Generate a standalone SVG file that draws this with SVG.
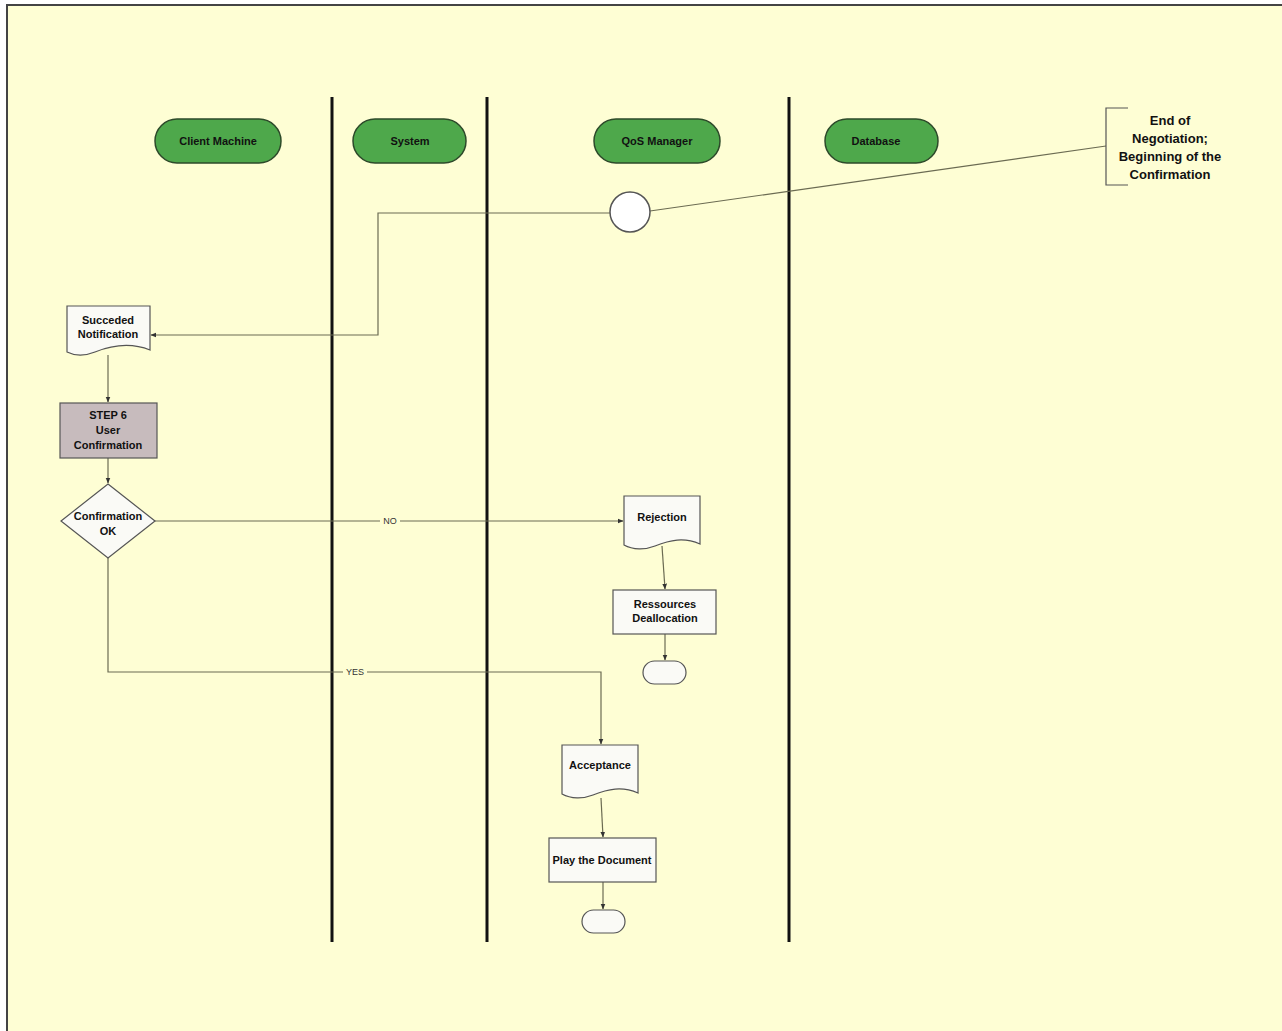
<svg xmlns="http://www.w3.org/2000/svg" width="1282" height="1031" viewBox="0 0 1282 1031">
<defs>
<marker id="arr" viewBox="0 0 10 10" refX="9" refY="5" markerWidth="6" markerHeight="6" orient="auto" markerUnits="userSpaceOnUse">
<path d="M0,1 L10,5 L0,9 z" fill="#333"/>
</marker>
<style>
.t{font-family:"Liberation Sans",Arial,sans-serif;font-weight:bold;font-size:11px;fill:#111;text-anchor:middle}
.lbl{font-family:"Liberation Sans",Arial,sans-serif;font-size:9px;fill:#333;text-anchor:middle}
.pill{fill:#4ea84b;stroke:#2d4a2a;stroke-width:1.5}
.box{fill:#fafaf6;stroke:#555;stroke-width:1.2}
.lane{stroke:#111;stroke-width:3}
.c{fill:none;stroke:#6b6b52;stroke-width:1.2}
</style>
</defs>
<rect x="7" y="5" width="1280" height="1030" fill="#fefed4" stroke="#444" stroke-width="2"/>
<g id="lanes">
<line class="lane" x1="332" y1="97" x2="332" y2="942"/>
<line class="lane" x1="487" y1="97" x2="487" y2="942"/>
<line class="lane" x1="789" y1="97" x2="789" y2="942"/>
</g>
<g id="h-client"><rect class="pill" x="155" y="119" width="126" height="44" rx="22"/><text class="t" x="218" y="145">Client Machine</text></g>
<g id="h-system"><rect class="pill" x="353" y="119" width="113" height="44" rx="22"/><text class="t" x="410" y="145">System</text></g>
<g id="h-qos"><rect class="pill" x="594" y="119" width="126" height="44" rx="22"/><text class="t" x="657" y="145">QoS Manager</text></g>
<g id="h-db"><rect class="pill" x="825" y="119" width="113" height="44" rx="22"/><text class="t" x="876" y="145">Database</text></g>
<g id="connectors">
<line class="c" x1="650" y1="211" x2="1106" y2="146"/>
<polyline class="c" points="610,213 378,213 378,335 151,335" marker-end="url(#arr)"/>
<line class="c" x1="108" y1="355" x2="108" y2="402" marker-end="url(#arr)"/>
<line class="c" x1="108" y1="458" x2="108" y2="483" marker-end="url(#arr)"/>
<line class="c" x1="155" y1="521" x2="623" y2="521" marker-end="url(#arr)"/>
<polyline class="c" points="108,557 108,672 601,672 601,744" marker-end="url(#arr)"/>
<line class="c" x1="662" y1="546" x2="665" y2="589" marker-end="url(#arr)"/>
<line class="c" x1="665" y1="634" x2="665" y2="660" marker-end="url(#arr)"/>
<line class="c" x1="601" y1="798" x2="603" y2="837" marker-end="url(#arr)"/>
<line class="c" x1="603" y1="882" x2="603" y2="909" marker-end="url(#arr)"/>
<rect x="380" y="515" width="20" height="11" fill="#fefed4"/>
<text class="lbl" x="390" y="524">NO</text>
<rect x="343" y="666" width="24" height="11" fill="#fefed4"/>
<text class="lbl" x="355" y="675">YES</text>
</g>
<g id="start"><circle cx="630" cy="212" r="20" fill="#fff" stroke="#555" stroke-width="1.5"/></g>
<g id="note">
<polyline fill="none" stroke="#555" stroke-width="1.2" points="1128,108 1106,108 1106,185 1128,185"/>
<text class="t" style="font-size:13px" x="1170" y="125">End of</text>
<text class="t" style="font-size:13px" x="1170" y="143">Negotiation;</text>
<text class="t" style="font-size:13px" x="1170" y="161">Beginning of the</text>
<text class="t" style="font-size:13px" x="1170" y="179">Confirmation</text>
</g>
<g id="succeded">
<path class="box" d="M67,306 H150 V350 C130,342 110,346 95,352 C85,356 75,356 67,352 Z"/>
<text class="t" x="108" y="324">Succeded</text>
<text class="t" x="108" y="338">Notification</text>
</g>
<g id="step6">
<rect x="60" y="403" width="97" height="55" fill="#c7bbbd" stroke="#555" stroke-width="1.2"/>
<text class="t" x="108" y="419">STEP 6</text>
<text class="t" x="108" y="434">User</text>
<text class="t" x="108" y="449">Confirmation</text>
</g>
<g id="decision">
<path class="box" d="M108,484 L155,521 L108,558 L61,521 Z"/>
<text class="t" x="108" y="520">Confirmation</text>
<text class="t" x="108" y="535">OK</text>
</g>
<g id="rejection">
<path class="box" d="M624,496 H700 V544 C684,537 670,540 655,546 C645,550 633,550 624,545 Z"/>
<text class="t" x="662" y="521">Rejection</text>
</g>
<g id="dealloc">
<rect class="box" x="613" y="590" width="103" height="44"/>
<text class="t" x="665" y="608">Ressources</text>
<text class="t" x="665" y="622">Deallocation</text>
</g>
<g id="end1"><rect class="box" x="643" y="661" width="43" height="23" rx="11.5"/></g>
<g id="acceptance">
<path class="box" d="M562,745 H638 V793 C622,786 608,789 593,795 C583,799 571,799 562,794 Z"/>
<text class="t" x="600" y="769">Acceptance</text>
</g>
<g id="play">
<rect class="box" x="549" y="838" width="107" height="44"/>
<text class="t" x="602" y="864">Play the Document</text>
</g>
<g id="end2"><rect class="box" x="582" y="910" width="43" height="23" rx="11.5"/></g>
</svg>
